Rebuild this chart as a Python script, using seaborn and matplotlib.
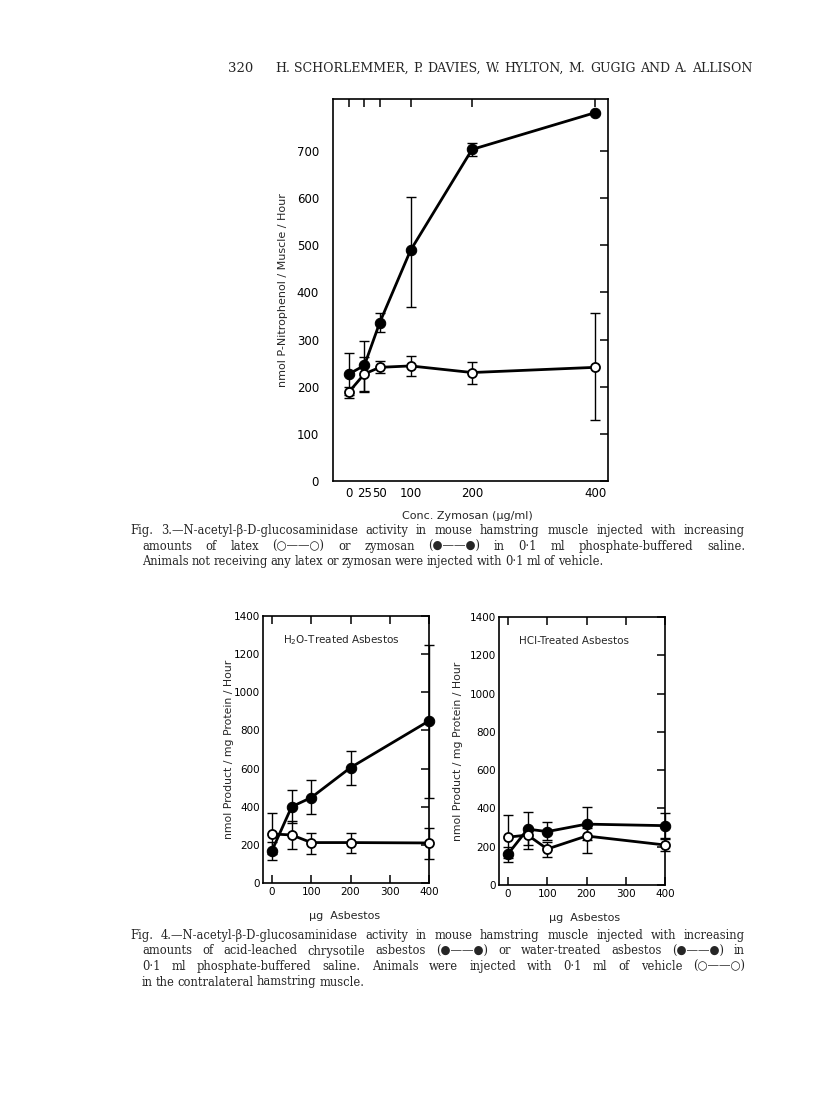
import matplotlib
matplotlib.use('Agg')
import pandas as pd
import seaborn as sns
import matplotlib.pyplot as plt

# Fig. 3 - zymosan / latex
zym_dose = [0, 25, 50, 100, 200, 400]
zymosan = [227, 245, 336, 489, 703, 781]
zymosan_hi = [271, 296, 357, 603, 717, 781]
zymosan_lo = [182, 189, 315, 370, 690, 781]
latex = [189, 227, 241, 244, 230, 241]
latex_hi = [200, 262, 255, 265, 253, 357]
latex_lo = [177, 190, 229, 223, 205, 130]

# Fig. 4 - asbestos
asb_dose = [0, 50, 100, 200, 400]
h2o = [170, 400, 448, 605, 850]
h2o_hi = [215, 488, 541, 690, 1250]
h2o_lo = [121, 315, 362, 515, 446]
h2o_vehicle = [257, 252, 212, 212, 210]
h2o_vehicle_hi = [367, 326, 262, 262, 290]
h2o_vehicle_lo = [150, 178, 152, 159, 125]
hcl = [162, 292, 279, 318, 310]
hcl_hi = [200, 383, 331, 407, 375]
hcl_lo = [122, 210, 235, 235, 245]
hcl_vehicle = [250, 261, 188, 256, 209]
hcl_vehicle_hi = [366, 300, 225, 300, 240]
hcl_vehicle_lo = [140, 188, 146, 167, 180]

header_num = "320"
header = "H. SCHORLEMMER, P. DAVIES, W. HYLTON, M. GUGIG AND A. ALLISON"
cap3 = ["Fig. 3.\u2014N-acetyl-\u03b2-D-glucosaminidase activity in mouse hamstring muscle injected with increasing",
        "amounts of latex (\u25cb\u2014\u2014\u25cb) or zymosan (\u25cf\u2014\u2014\u25cf) in 0\u00b71 ml phosphate-buffered saline.",
        "Animals not receiving any latex or zymosan were injected with 0\u00b71 ml of vehicle."]
cap4 = ["Fig. 4.\u2014N-acetyl-\u03b2-D-glucosaminidase activity in mouse hamstring muscle injected with increasing",
        "amounts of acid-leached chrysotile asbestos (\u25cf\u2014\u2014\u25cf) or water-treated asbestos (\u25cf\u2014\u2014\u25cf) in",
        "0\u00b71 ml phosphate-buffered saline. Animals were injected with 0\u00b71 ml of vehicle (\u25cb\u2014\u2014\u25cb)",
        "in the contralateral hamstring muscle."]

sns.set_style('ticks')
plt.rcParams['font.family'] = ['DejaVu Sans']
W, H = 816, 1113
fig = plt.figure(figsize=(W / 100, H / 100), dpi=100)
serif = ['DejaVu Serif']


def px_axes(l, t, r, b):
    return fig.add_axes([l / W, 1 - b / H, (r - l) / W, (b - t) / H])


def draw_series(ax, x, y, lo, hi, filled):
    df = pd.DataFrame({'x': x, 'y': y})
    err = [[a - b for a, b in zip(y, lo)], [b - a for a, b in zip(y, hi)]]
    ax.errorbar(x, y, yerr=err, fmt='none', ecolor='black', elinewidth=1,
                capsize=3.5, capthick=1, zorder=2, clip_on=False)
    if filled:
        sns.lineplot(data=df, x='x', y='y', ax=ax, color='black', linewidth=2,
                     marker='o', markersize=7.5, markerfacecolor='black',
                     markeredgecolor='black', zorder=3, clip_on=False)
    else:
        sns.lineplot(data=df, x='x', y='y', ax=ax, color='black', linewidth=2,
                     marker='o', markersize=6.5, markerfacecolor='white',
                     markeredgecolor='black', markeredgewidth=1.3, zorder=4,
                     clip_on=False)


def justify(y, x0, x1, text, size, full=True):
    r = fig.canvas.get_renderer()
    words = text.split(' ')
    objs = [fig.text(0, 1 - y / H, w, fontsize=size, family=serif, va='baseline')
            for w in words]
    widths = [o.get_window_extent(r).width for o in objs]
    if full and len(words) > 1:
        gap = (x1 - x0 - sum(widths)) / (len(words) - 1)
    else:
        gap = size * 0.35
    x = x0
    for o, w in zip(objs, widths):
        o.set_x(x / W)
        x += w + gap


def style(ax, bottom_ticks, labelsize):
    for s in ax.spines.values():
        s.set_linewidth(1.2)
        s.set_color('black')
    ax.tick_params(direction='in', top=True, right=True, length=6, width=1.1,
                   labelsize=labelsize, colors='black')
    ax.tick_params(axis='y', left=False)
    if not bottom_ticks:
        ax.tick_params(axis='x', bottom=False)
    ax.set_xlabel('')
    ax.set_ylabel('')


# ---- Fig. 3
ax3 = px_axes(333, 99, 608, 481)
draw_series(ax3, zym_dose, zymosan, zymosan_lo, zymosan_hi, True)
draw_series(ax3, zym_dose, latex, latex_lo, latex_hi, False)
ax3.set_xlim(-26, 421)
ax3.set_ylim(0, 810)
ax3.set_xticks(zym_dose)
ax3.set_yticks(range(0, 800, 100))
style(ax3, False, 8.5)
ax3.tick_params(axis='y', pad=10)
ax3.tick_params(axis='x', pad=4)
ax3.text(-0.18, 0.5, 'nmol P-Nitrophenol / Muscle / Hour', transform=ax3.transAxes,
         rotation=90, ha='center', va='center', fontsize=8)
ax3.text(0.49, -0.092, 'Conc. Zymosan (\u03bcg/ml)', transform=ax3.transAxes,
         ha='center', va='center', fontsize=8)

# ---- Fig. 4
panels = [
    ((263, 616, 429, 883), h2o, h2o_lo, h2o_hi, h2o_vehicle, h2o_vehicle_lo,
     h2o_vehicle_hi, 'H$_2$O-Treated Asbestos', -0.205, 0.494),
    ((499, 617, 665, 885), hcl, hcl_lo, hcl_hi, hcl_vehicle, hcl_vehicle_lo,
     hcl_vehicle_hi, 'HCl-Treated Asbestos', -0.25, 0.518),
]
for box, y1, l1, h1, y2, l2, h2, title, ylx, xlx in panels:
    ax = px_axes(*box)
    draw_series(ax, asb_dose, y1, l1, h1, True)
    draw_series(ax, asb_dose, y2, l2, h2, False)
    ax.set_xlim(-23, 400)
    ax.set_ylim(0, 1400)
    ax.set_xticks(range(0, 500, 100))
    ax.set_yticks(range(0, 1600, 200))
    style(ax, True, 7.5)
    ax.tick_params(axis='y', pad=2)
    ax.tick_params(axis='x', pad=3)
    ax.text(0.12, 0.91, title, transform=ax.transAxes, ha='left', va='center',
            fontsize=7.5)
    ax.text(ylx, 0.5, 'nmol Product / mg Protein / Hour', transform=ax.transAxes,
            rotation=90, ha='center', va='center', fontsize=7.8)
    ax.text(xlx, -0.124, '\u03bcg  Asbestos', transform=ax.transAxes,
            ha='center', va='center', fontsize=8)

# ---- page text
fig.text(228 / W, 1 - 72 / H, header_num, fontsize=9.5, family=serif, va='baseline')
justify(72, 275, 752, header, 9)
for i, line in enumerate(cap3):
    x0 = 130 if i == 0 else 142
    justify(534 + 15.7 * i, x0, 745, line, 8.3, full=(i < len(cap3) - 1))
for i, line in enumerate(cap4):
    x0 = 130 if i == 0 else 142
    justify(939 + 15.5 * i, x0, 745, line, 8.3, full=(i < len(cap4) - 1))

fig.savefig('out.png', dpi=100, facecolor='white')
